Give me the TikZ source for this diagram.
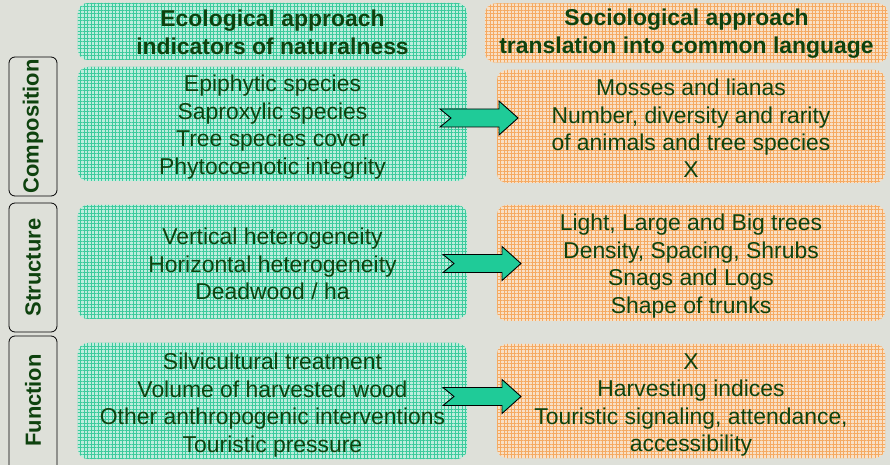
\documentclass[tikz,border=0pt]{standalone}
\usepackage{fontspec}
\setmainfont{Liberation Sans}
\usetikzlibrary{patterns.meta}
\definecolor{bg}{HTML}{DEE0D9}
\definecolor{gbase}{HTML}{BDEDDD}
\definecolor{gline}{HTML}{3DCB9D}
\definecolor{obase}{HTML}{F8E0C6}
\definecolor{oline}{HTML}{F5AA62}
\definecolor{tgreen}{HTML}{0E420E}
\definecolor{afill}{HTML}{1FCB98}
\tikzset{
  boxbase/.style={rounded corners=10bp, inner sep=0pt},
  gbox/.style={boxbase, preaction={fill=gbase},
    pattern={Lines[angle=0,distance=3.5bp,line width=0.8bp]}, pattern color=gline,
    postaction={pattern={Lines[angle=90,distance=3.5bp,line width=0.8bp]}, pattern color=gline}},
  obox/.style={boxbase, preaction={fill=obase},
    pattern={Lines[angle=0,distance=3.5bp,line width=0.8bp]}, pattern color=oline,
    postaction={pattern={Lines[angle=90,distance=3.5bp,line width=0.8bp]}, pattern color=oline}},
  btext/.style={align=center, text=tgreen, inner sep=0pt, font=\fontsize{23}{27.5}\selectfont},
  htext/.style={btext, font=\fontsize{23}{28}\selectfont\bfseries},
  lbox/.style={draw=black, line width=0.8bp, rounded corners=6bp, rotate=90,
    minimum height=48bp, inner sep=0pt},
  ltext/.style={rotate=90, text=tgreen, font=\fontsize{22}{26}\selectfont\bfseries, inner sep=0pt},
  barrow/.pic={\draw[fill=afill, draw=black, line width=0.9bp, line join=miter]
    (0,-9) -- (59,-9) -- (59,-17) -- (78,0) -- (59,17) -- (59,9) -- (0,9) -- (11,0) -- cycle;}
}
\begin{document}
\begin{tikzpicture}[x=1bp,y=-1bp]
\useasboundingbox (0,0) rectangle (890,465);
\fill[bg] (0,0) rectangle (890,465);
\clip (0,0) rectangle (890,465);

% headers
\node[gbox, minimum width=389bp, minimum height=57bp] (gh) at (272.5,31.5) {};
\node[htext, yshift=-1bp] (tgh) at (gh.center) {Ecological approach\\indicators of naturalness};
\node[obox, minimum width=403bp, minimum height=59bp] (oh) at (686.5,33) {};
\node[htext, yshift=-1bp] (toh) at (oh.center) {Sociological approach\\translation into common language};

% row 1
\node[gbox, minimum width=389bp, minimum height=114bp] (g1) at (272.5,124) {};
\node[btext, yshift=-3bp] (tg1) at (g1.center)
  {Epiphytic species\\Saproxylic species\\Tree species cover\\Phytoc\oe notic integrity};
\node[obox, minimum width=388bp, minimum height=113bp] (o1) at (691,126.5) {};
\node[btext, yshift=-2bp] (to1) at (o1.center)
  {Mosses and lianas\\Number, diversity and rarity\\of animals and tree species\\X};

% row 2
\node[gbox, minimum width=389bp, minimum height=114bp] (g2) at (272.5,262) {};
\node[btext, yshift=-2bp] (tg2) at (g2.center)
  {Vertical heterogeneity\\Horizontal heterogeneity\\Deadwood / ha};
\node[obox, minimum width=388bp, minimum height=116bp] (o2) at (691,263) {};
\node[btext, yshift=-3bp] (to2) at (o2.center)
  {Light, Large and Big trees\\Density, Spacing, Shrubs\\Snags and Logs\\Shape of trunks};

% row 3
\node[gbox, minimum width=389bp, minimum height=116bp] (g3) at (272.5,401) {};
\node[btext, yshift=-4bp] (tg3) at (g3.center)
  {Silvicultural treatment\\Volume of harvested wood\\Other anthropogenic interventions\\Touristic pressure};
\node[obox, minimum width=388bp, minimum height=114bp] (o3) at (691,401) {};
\node[btext, yshift=-4bp] (to3) at (o3.center)
  {X\\Harvesting indices\\Touristic signaling, attendance,\\accessibility};

% arrows
\coordinate (a1) at (440,118);
\coordinate (a2) at (443,263.5);
\coordinate (a3) at (443,396.5);
\pic at (a1) {barrow};
\pic at (a2) {barrow};
\pic at (a3) {barrow};

% side labels
\node[lbox, minimum width=139bp] (lc) at (33,126.5) {};
\node[ltext] (tc) at (lc.center) {Composition};
\node[lbox, minimum width=129bp] (ls) at (33,267.5) {};
\node[ltext] (ts) at (ls.center) {Structure};
\node[lbox, minimum width=140bp] (lf) at (33,406) {};
\node[ltext] (tf) at (33,400.5) {Function};
\end{tikzpicture}
\end{document}
